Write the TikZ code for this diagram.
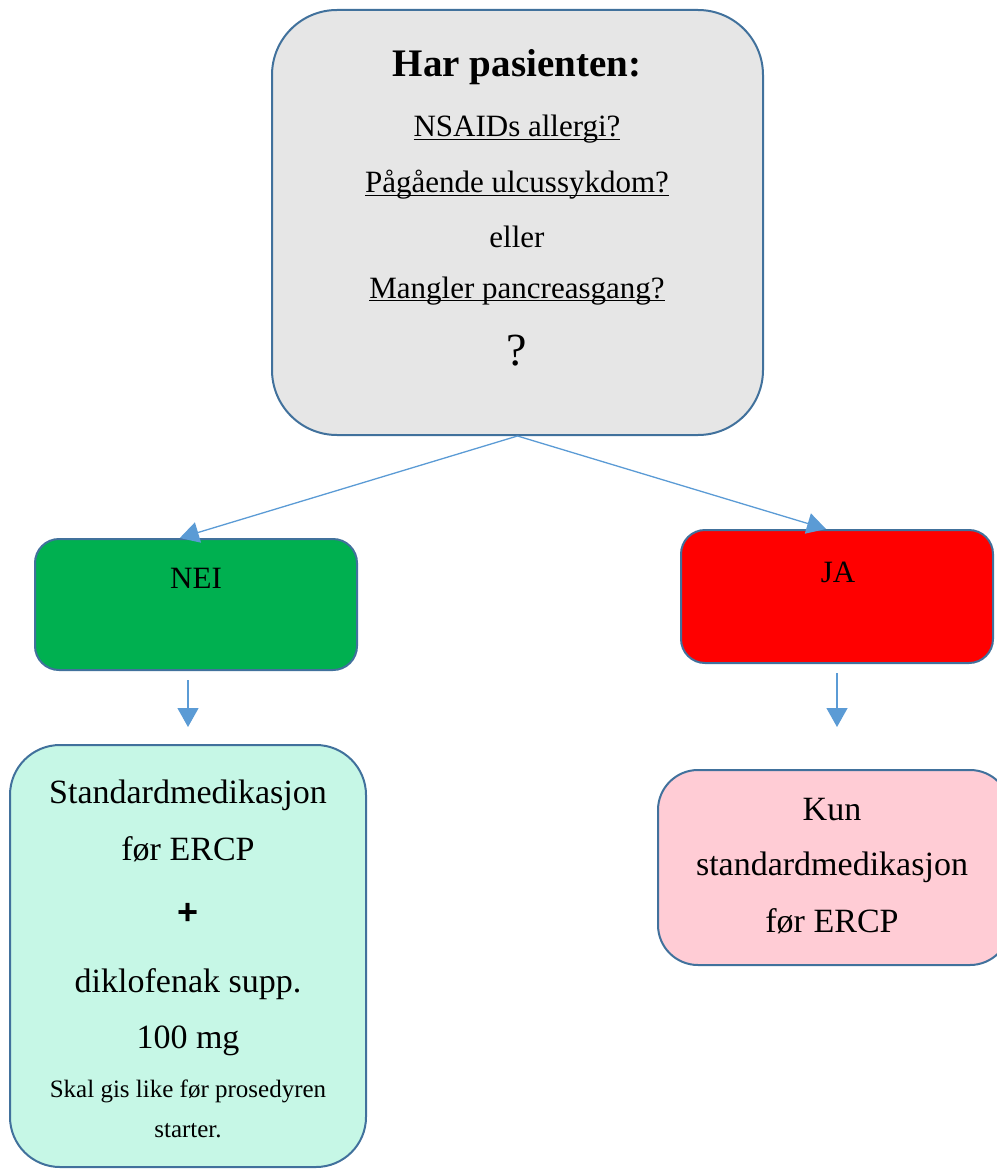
\documentclass[tikz,border=0pt]{standalone}
\usepackage{fontspec}
\setmainfont{Liberation Serif}
\setsansfont{Liberation Sans}
\usetikzlibrary{arrows.meta,calc}
\definecolor{boxline}{HTML}{41719C}
\definecolor{arrowblue}{HTML}{5B9BD5}
\definecolor{qgray}{HTML}{E6E6E6}
\definecolor{neigreen}{HTML}{00B050}
\definecolor{jared}{HTML}{FF0000}
\definecolor{mint}{HTML}{C6F7E6}
\definecolor{rosa}{HTML}{FFCCD5}
\newcommand{\uln}[1]{\setbox0\hbox{#1}\rlap{\rule[-3pt]{\wd0}{1.2pt}}\box0}
\begin{document}
\begin{tikzpicture}[x=1pt,y=-1pt]
        \tikzstyle{box} = [draw=boxline, line width=2pt, inner sep=0pt]
        \tikzstyle{arr} = [draw=arrowblue, line width=1.3pt, -{Triangle[length=19pt,width=21pt]}]
        \tikzstyle{txt} = [anchor=base, inner sep=0pt, font=\fontsize{31}{31}\selectfont]
        \tikzstyle{big} = [anchor=base, inner sep=0pt, font=\fontsize{34}{34}\selectfont]
        \useasboundingbox (0,0) rectangle (996,1169);

        % boxes
        \node[box, rounded corners=65pt, fill=qgray, minimum width=491pt, minimum height=425pt](q) at (517.5,222.5){};
        \node[box, rounded corners=24pt, fill=neigreen, minimum width=322pt, minimum height=131pt](nei) at (196,604.5){};
        \node[box, rounded corners=24pt, fill=jared, minimum width=312pt, minimum height=133pt](ja) at (837,596.5){};
        \node[box, rounded corners=50pt, fill=mint, minimum width=356pt, minimum height=422pt](std) at (188,956){};
        \node[box, rounded corners=40pt, fill=rosa, minimum width=352pt, minimum height=195pt](kun) at (834,867.5){};

        % question
        \node[anchor=base, inner sep=0pt, font=\fontsize{39}{39}\selectfont\bfseries](qt) at (517,77){Har pasienten:};
        \node[txt](q1) at (517,137){\uln{NSAIDs allergi?}};
        \node[txt](q2) at (517,193){\uln{Pågående ulcussykdom?}};
        \node[txt](q3) at (517,247){eller};
        \node[txt](q4) at (517,298){\uln{Mangler pancreasgang?}};
        \node[anchor=base, inner sep=0pt, font=\fontsize{46}{46}\selectfont](q5) at (517,365){?};

        % answers
        \node[txt](neit) at (196,588){NEI};
        \node[txt](jat) at (838,582){JA};

        % left result
        \node[big](s1) at (188,803){Standardmedikasjon};
        \node[big](s2) at (188,860){før ERCP};
        \node[inner sep=0pt, font=\fontsize{36}{36}\selectfont\sffamily\bfseries](s3) at (188,914){+};
        \node[big](s4) at (188,992){diklofenak supp.};
        \node[big](s5) at (188,1048){100 mg};
        \node[anchor=base, inner sep=0pt, font=\fontsize{25}{25}\selectfont](s6) at (188,1097){Skal gis like før prosedyren};
        \node[anchor=base, inner sep=0pt, font=\fontsize{25}{25}\selectfont](s7) at (188,1137){starter.};

        % right result
        \node[big](k1) at (832,820){Kun};
        \node[big](k2) at (832,875){standardmedikasjon};
        \node[big](k3) at (832,932){før ERCP};

        % connectors
        \draw[arr] (q.south) -- ($(nei.north west)!0.45!(nei.north east)$);
        \draw[arr] (q.south) -- ($(ja.north west)!0.465!(ja.north east)$);
        \draw[arr, shorten <=9pt, shorten >=17pt] (nei.south -| std.north) -- (std.north);
        \draw[arr, shorten <=9pt, shorten >=42pt] (ja.south) -- (kun.north -| ja.south);
    \end{tikzpicture}
\end{document}
